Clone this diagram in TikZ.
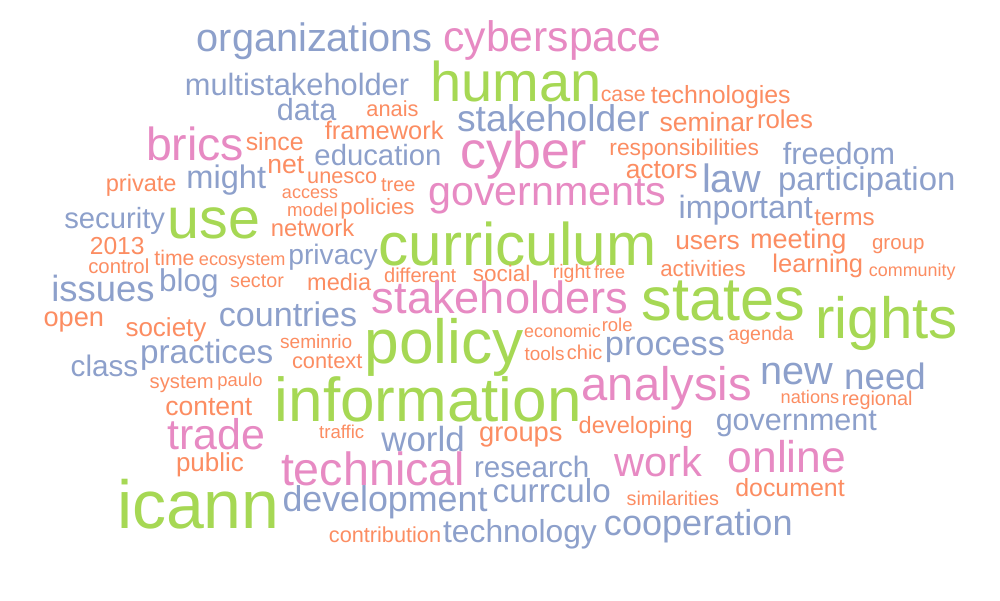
\documentclass[tikz,border=0pt]{standalone}
\usepackage{fontspec}
\setmainfont{Liberation Sans}
\definecolor{cG}{HTML}{A6D854}
\definecolor{cP}{HTML}{E78AC3}
\definecolor{cB}{HTML}{8DA0CB}
\definecolor{cO}{HTML}{FC8D62}
\newcommand\wc[5]{\node[wordnode, text=#4, font=\fontsize{#3}{#3}\selectfont] (w#5) at (#1,#2) {#5};}
\begin{document}
\begin{tikzpicture}[x=1pt,y=-1pt, wordnode/.style={anchor=base, inner sep=0pt, outer sep=0pt}]
\useasboundingbox[fill=white] (0,0) rectangle (1000,600);
\wc{314.8}{51.7}{39.7}{cB}{organizations}
\wc{552.5}{51.7}{42.7}{cP}{cyberspace}
\wc{515.8}{101.7}{56}{cG}{human}
\wc{297}{95}{30.8}{cB}{multistakeholder}
\wc{306.7}{120}{30.6}{cB}{data}
\wc{392.5}{116.7}{21.8}{cO}{anais}
\wc{623.3}{101}{21.3}{cO}{case}
\wc{720.8}{103.3}{24.9}{cO}{technologies}
\wc{553.3}{131.7}{37.2}{cB}{stakeholder}
\wc{706.7}{131.7}{26.5}{cO}{seminar}
\wc{785}{128.3}{25.8}{cO}{roles}
\wc{195}{160}{46.4}{cP}{brics}
\wc{274.7}{150}{24.8}{cO}{since}
\wc{384.2}{139.5}{25.4}{cO}{framework}
\wc{523.8}{168.3}{51.8}{cP}{cyber}
\wc{684.2}{155}{22.8}{cO}{responsibilities}
\wc{285.8}{173.3}{26.5}{cO}{net}
\wc{378}{165}{29.3}{cB}{education}
\wc{839}{164}{30.6}{cB}{freedom}
\wc{226.3}{188.3}{32.6}{cB}{might}
\wc{141.2}{191}{23.6}{cO}{private}
\wc{342.2}{183.3}{21.7}{cO}{unesco}
\wc{398.3}{191.7}{19.9}{cO}{tree}
\wc{310}{198.3}{18}{cO}{access}
\wc{661.7}{178.3}{26.4}{cO}{actors}
\wc{731.7}{192.7}{39.6}{cB}{law}
\wc{866.7}{190}{32.9}{cB}{participation}
\wc{547.5}{205}{41.2}{cP}{governments}
\wc{312.5}{216.7}{18.6}{cO}{model}
\wc{377.5}{214}{22.2}{cO}{policies}
\wc{114.7}{228.3}{29.2}{cB}{security}
\wc{214}{238.3}{57.4}{cG}{use}
\wc{745.8}{218.3}{32.2}{cB}{important}
\wc{844.5}{225}{24.1}{cO}{terms}
\wc{312.5}{236.7}{23.8}{cO}{network}
\wc{517.5}{265}{60.2}{cG}{curriculum}
\wc{117.2}{254.3}{24.6}{cO}{2013}
\wc{174.5}{265}{21.2}{cO}{time}
\wc{242.2}{265}{18.1}{cO}{ecosystem}
\wc{333}{264}{28.2}{cB}{privacy}
\wc{707.5}{249.3}{26.3}{cO}{users}
\wc{798.3}{248.3}{27.1}{cO}{meeting}
\wc{898.3}{249.3}{20.5}{cO}{group}
\wc{118.8}{273.3}{20.3}{cO}{control}
\wc{188.8}{291.7}{31.5}{cB}{blog}
\wc{257}{287.7}{19.7}{cO}{sector}
\wc{339.2}{290}{23.5}{cO}{media}
\wc{420.2}{282.7}{20.1}{cO}{different}
\wc{501.7}{281.7}{22.5}{cO}{social}
\wc{571.8}{278.3}{19.5}{cO}{right}
\wc{609.5}{278.3}{18}{cO}{free}
\wc{703}{276}{22.3}{cO}{activities}
\wc{817.8}{272.7}{25.5}{cO}{learning}
\wc{912.2}{276.7}{17.9}{cO}{community}
\wc{103}{301.7}{36.4}{cB}{issues}
\wc{500}{313.3}{45.2}{cP}{stakeholders}
\wc{723.3}{320}{61.3}{cG}{states}
\wc{886.7}{338.3}{58.2}{cG}{rights}
\wc{73.8}{326.7}{27.2}{cO}{open}
\wc{288}{326.7}{34.1}{cB}{countries}
\wc{166}{336.7}{26}{cO}{society}
\wc{316.2}{348.3}{19.1}{cO}{seminrio}
\wc{562.5}{337.3}{17.9}{cO}{economic}
\wc{617.2}{331.7}{18.5}{cO}{role}
\wc{761}{340.7}{19.5}{cO}{agenda}
\wc{444.2}{363.3}{62.3}{cG}{policy}
\wc{544.5}{360}{18.9}{cO}{tools}
\wc{584.7}{359.3}{20}{cO}{chic}
\wc{665}{355}{34.3}{cB}{process}
\wc{104.5}{376}{29.7}{cB}{class}
\wc{206.7}{363.3}{33.3}{cB}{practices}
\wc{327.2}{368.3}{21.8}{cO}{context}
\wc{181.7}{388.3}{20.2}{cO}{system}
\wc{240}{386}{18.4}{cO}{paulo}
\wc{666.7}{400}{47.1}{cP}{analysis}
\wc{796.7}{384}{39.7}{cB}{new}
\wc{885}{389.3}{36.7}{cB}{need}
\wc{810}{403.3}{18.2}{cO}{nations}
\wc{877.2}{405}{19.9}{cO}{regional}
\wc{208.8}{415}{26.5}{cO}{content}
\wc{428.3}{421.7}{62}{cG}{information}
\wc{216.2}{449.3}{42.9}{cP}{trade}
\wc{341.7}{438.3}{18.6}{cO}{traffic}
\wc{423}{451}{34.9}{cB}{world}
\wc{520.8}{441.7}{27.3}{cO}{groups}
\wc{635.8}{433.3}{23.6}{cO}{developing}
\wc{796.3}{430.7}{30.5}{cB}{government}
\wc{210}{471.7}{26}{cO}{public}
\wc{373}{485}{46.6}{cP}{technical}
\wc{531.7}{477.3}{29.6}{cB}{research}
\wc{658.3}{476.7}{41.5}{cP}{work}
\wc{787}{472.7}{44.4}{cP}{online}
\wc{198.3}{528.3}{68}{cG}{icann}
\wc{385}{511.7}{35.8}{cB}{development}
\wc{551.7}{502.7}{33.2}{cB}{currculo}
\wc{790}{496.7}{24.9}{cO}{document}
\wc{672.8}{505}{19.8}{cO}{similarities}
\wc{698.3}{535}{36.1}{cB}{cooperation}
\wc{385}{542.3}{21.7}{cO}{contribution}
\wc{520}{542.3}{31.8}{cB}{technology}
\end{tikzpicture}
\end{document}
